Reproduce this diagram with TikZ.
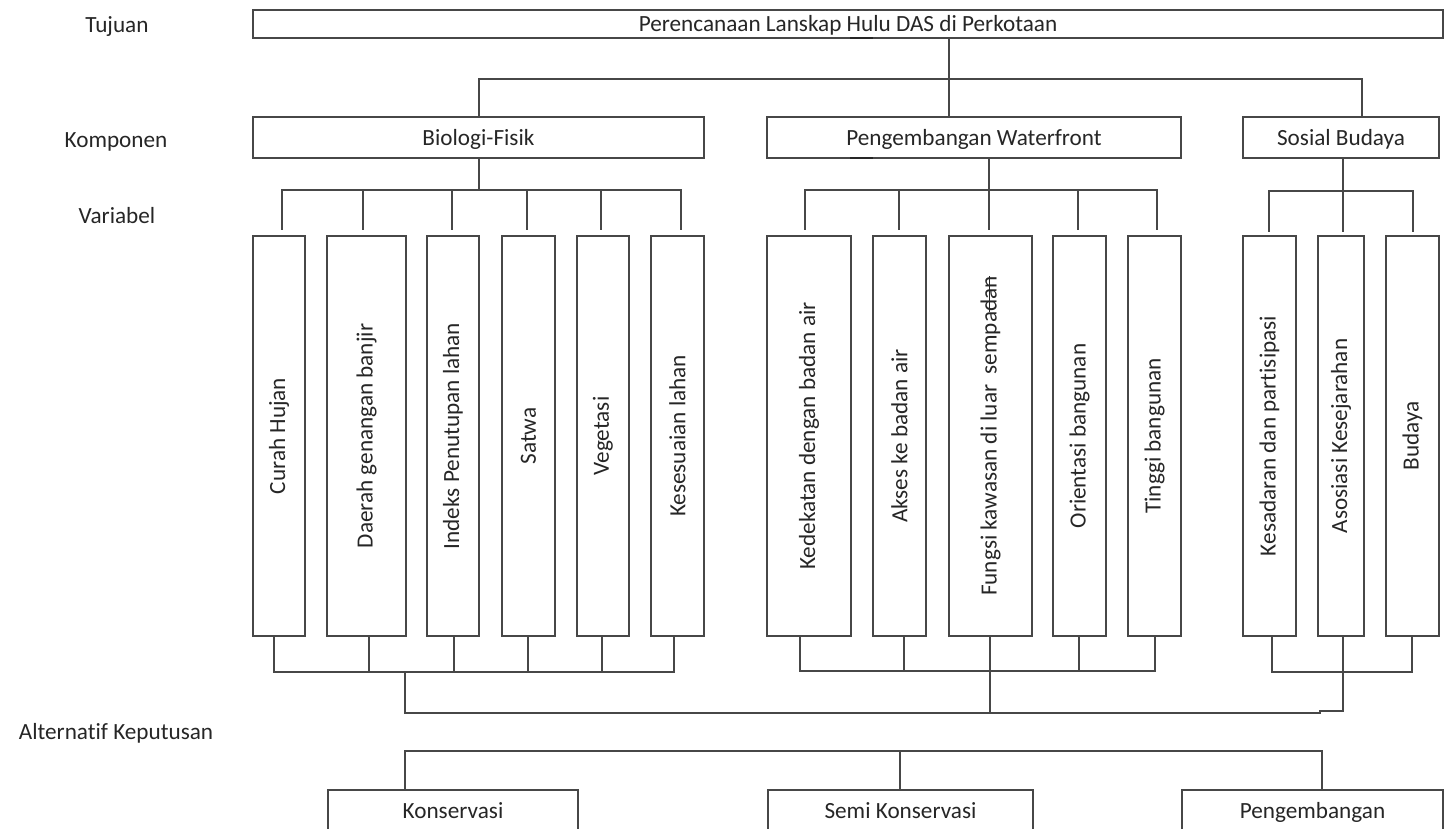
\documentclass[tikz,border=0pt]{standalone}
\usepackage{fontspec}
\setmainfont{Carlito}[Ligatures=NoCommon]
\newcommand\fsz{\fontsize{23.2}{27}\selectfont}
\newsavebox\mystrkbox
\newcommand\mystrike[1]{\sbox\mystrkbox{#1}\rlap{\rule[0.28em]{\wd\mystrkbox}{0.06em}}\usebox\mystrkbox}
\begin{document}
\begin{tikzpicture}[x=1pt,y=-1pt,
  ln/.style={draw=black!72,line width=1.2pt},
  conn/.style={ln,line cap=rect},
  bx/.style={ln,rectangle,inner sep=0pt,text height=15pt,text depth=0pt,text=black!85,font=\fsz},
  vb/.style={ln,rectangle,inner sep=0pt,minimum height=400pt,text=black!85,font=\fsz},
  lbl/.style={anchor=base,inner sep=0pt,text=black!85,font=\fsz}]
\useasboundingbox (0,0) rectangle (1445,828);
\clip (0,0) rectangle (1445,828);

% level labels
\node[lbl] (ltuj) at (117,32) {Tujuan};
\node[lbl] (lkom) at (116,147) {Komponen};
\node[lbl] (lvar) at (117,223) {Variabel};
\node[lbl] (lalt) at (116,739) {Alternatif Keputusan};

% goal
\node[bx,minimum width=1190pt,minimum height=28pt] (top) at (848,24) {Perencanaan Lanskap Hulu DAS di Perkotaan};

% components
\node[bx,minimum width=451pt,minimum height=41pt] (bio) at (478.5,137.5) {Biologi-Fisik};
\node[bx,minimum width=414pt,minimum height=41pt] (wf) at (974,137.5) {Pengembangan Waterfront};
\node[bx,minimum width=196pt,minimum height=41pt] (sb) at (1341,137.5) {Sosial Budaya};

% variables
\node[vb,minimum width=52pt] (v1) at (279,436) {\rotatebox{90}{Curah Hujan}};
\node[vb,minimum width=79pt] (v2) at (366.5,436) {\rotatebox{90}{Daerah genangan banjir}};
\node[vb,minimum width=52pt] (v3) at (453,436) {\rotatebox{90}{Indeks Penutupan lahan}};
\node[vb,minimum width=53pt] (v4) at (528.5,436) {\rotatebox{90}{Satwa}};
\node[vb,minimum width=52pt] (v5) at (603,436) {\rotatebox{90}{Vegetasi}};
\node[vb,minimum width=53pt] (v6) at (677.5,436) {\rotatebox{90}{Kesesuaian lahan}};

\node[vb,minimum width=84pt] (w1) at (809,436) {\rotatebox{90}{Kedekatan dengan badan air}};
\node[vb,minimum width=53pt] (w2) at (899.5,436) {\rotatebox{90}{Akses ke badan air}};
\node[vb,minimum width=83pt] (w3) at (990.5,436) {\rotatebox{90}{Fungsi kawasan di luar~ sempa\mystrike{dan}}};
\node[vb,minimum width=53pt] (w4) at (1079.5,436) {\rotatebox{90}{Orientasi bangunan}};
\node[vb,minimum width=53pt] (w5) at (1154.5,436) {\rotatebox{90}{Tinggi bangunan}};

\node[vb,minimum width=53pt] (s1) at (1269.5,436) {\rotatebox{90}{Kesadaran dan partisipasi}};
\node[vb,minimum width=46pt] (s2) at (1341,436) {\rotatebox{90}{Asosiasi Kesejarahan}};
\node[vb,minimum width=53pt] (s3) at (1412.5,436) {\rotatebox{90}{Budaya}};

% alternatives (cut by the lower page edge)
\node[bx,minimum width=250pt,minimum height=42pt] (kon) at (453,811) {Konservasi};
\node[bx,minimum width=265pt,minimum height=42pt] (semi) at (900.5,811) {Semi Konservasi};
\node[bx,minimum width=261pt,minimum height=42pt] (peng) at (1312.5,811) {Pengembangan};

% small dark marks on the box edges
\draw[black!85,line width=2.8pt] (850,38) -- (873,38);
\draw[black!85,line width=2.8pt] (850,158) -- (873,158);

% goal -> components
\coordinate (j0) at (949,79);
\coordinate (j0l) at (479,79);
\coordinate (j0r) at (1362,79);
\draw[conn] (j0 |- top.south) -- (j0 |- wf.north);
\draw[conn] (j0l |- bio.north) -- (j0l) -- (j0r) -- (j0r |- sb.north);

% Biologi-Fisik -> variables
\coordinate (ba) at (479,190);
\coordinate (bl) at (282,190);
\coordinate (br) at (681,190);
\draw[conn] (ba |- bio.south) -- (ba);
\draw[conn] (bl) -- (br);
\foreach \x/\n in {282/v1,363/v2,452/v3,527/v4,601/v5,681/v6}{
  \coordinate (q) at (\x,190);
  \draw[conn,shorten >=6pt] (q) -- (q |- \n.north);
}

% Waterfront -> variables
\coordinate (wa) at (989,190);
\coordinate (wl) at (805,190);
\coordinate (wr) at (1157,190);
\draw[conn] (wa |- wf.south) -- (wa);
\draw[conn] (wl) -- (wr);
\foreach \x/\n in {805/w1,899/w2,989/w3,1078/w4,1157/w5}{
  \coordinate (q) at (\x,190);
  \draw[conn,shorten >=6pt] (q) -- (q |- \n.north);
}

% Sosial Budaya -> variables
\coordinate (sa) at (1343,191);
\coordinate (sl) at (1269,191);
\coordinate (sr) at (1413,191);
\draw[conn] (sa |- sb.south) -- (sa);
\draw[conn] (sl) -- (sr);
\foreach \x/\n in {1269/s1,1343/s2,1413/s3}{
  \coordinate (q) at (\x,191);
  \draw[conn,shorten >=4pt] (q) -- (q |- \n.north);
}

% variables -> lower buses
\foreach \x/\n in {274/v1,369/v2,454/v3,528/v4,602/v5,674/v6}{
  \coordinate (q) at (\x,672);
  \draw[conn] (q |- \n.south) -- (q);
}
\coordinate (bbl) at (274,672);
\coordinate (bbr) at (674,672);
\coordinate (bbm) at (405,672);
\draw[conn] (bbl) -- (bbr);

\foreach \x/\n in {800/w1,904/w2,990/w3,1079/w4,1155/w5}{
  \coordinate (q) at (\x,671);
  \draw[conn] (q |- \n.south) -- (q);
}
\coordinate (wbl) at (800,671);
\coordinate (wbr) at (1155,671);
\coordinate (wbm) at (990,671);
\draw[conn] (wbl) -- (wbr);

\foreach \x/\n in {1272/s1,1343/s2,1412/s3}{
  \coordinate (q) at (\x,672);
  \draw[conn] (q |- \n.south) -- (q);
}
\coordinate (sbl) at (1272,672);
\coordinate (sbr) at (1412,672);
\coordinate (sbm) at (1343,672);
\draw[conn] (sbl) -- (sbr);

% collecting line
\coordinate (cl) at (405,713);
\coordinate (cs1) at (1320,711);
\coordinate (cs2) at (1320,713);
\draw[conn] (bbm) -- (cl) -- (cs2) -- (cs1) -- (cs1 -| sbm) -- (sbm);
\draw[conn] (wbm) -- (wbm |- cl);

% alternatives tree
\coordinate (al) at (405,751);
\coordinate (am) at (900,751);
\coordinate (ar) at (1322,751);
\draw[conn] (al |- kon.north) -- (al) -- (ar) -- (ar |- peng.north);
\draw[conn] (am) -- (am |- semi.north);
\end{tikzpicture}
\end{document}
